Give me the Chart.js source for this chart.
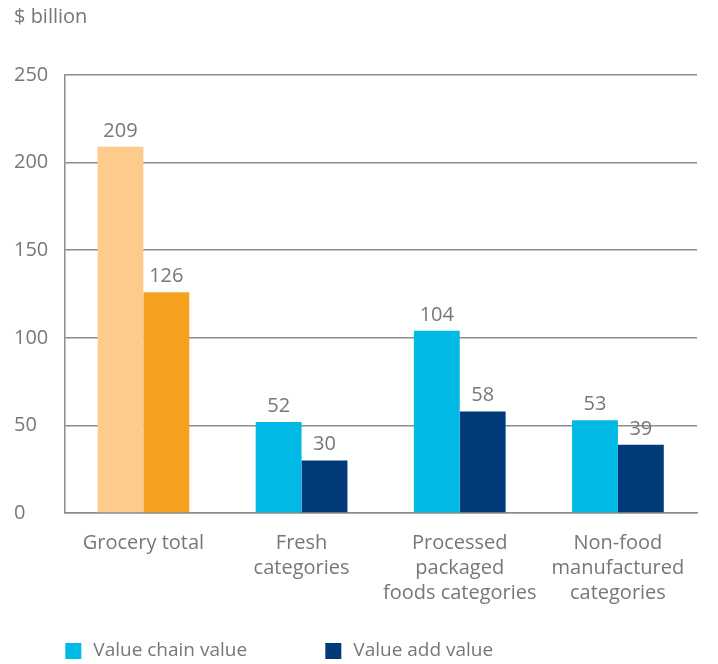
<!doctype html>
<html lang="en">
<head>
<meta charset="utf-8">
<title>Value chain vs value add</title>
<script src="https://cdn.jsdelivr.net/npm/chart.js@4/dist/chart.umd.min.js"></script>
<style>
  body { margin: 0; background: #fff; }
  #wrap { width: 718px; height: 664px; position: relative; }
</style>
</head>
<body>
<div id="wrap"><canvas id="myChart" width="718" height="664"></canvas></div>
<script>
// categories and values
var categories = [
  "Grocery total",
  ["Fresh", "categories"],
  ["Processed", "packaged", "foods categories"],
  ["Non-food", "manufactured", "categories"]
];
var chainValues = [209, 52, 104, 53];
var addValues = [126, 30, 58, 39];
var yTicks = [0, 50, 100, 150, 200, 250];
var seriesNames = ["Value chain value", "Value add value"];

var grey = "#777777";
var font = "'Open Sans', 'DejaVu Sans', sans-serif";
var cyan = "#00B9E4", navy = "#003A79";

// grocery total gets the orange pair, everything else blue
var chainColours = ["#FDCB8B", cyan, cyan, cyan];
var addColours = ["#F5A01E", navy, navy, navy];

// write the value above each bar
var valueLabels = {
  id: "valueLabels",
  afterDatasetsDraw: function(chart) {
    var ctx = chart.ctx;
    ctx.save();
    ctx.fillStyle = grey;
    ctx.font = "20px " + font;
    ctx.textAlign = "center";
    ctx.textBaseline = "alphabetic";
    chart.data.datasets.forEach(function(ds, i) {
      chart.getDatasetMeta(i).data.forEach(function(bar, j) {
        ctx.fillText(ds.data[j], bar.x, bar.y - 10);
      });
    });
    ctx.restore();
  }
};

// legend along the bottom, squares + names, left aligned with the plot
var bottomLegend = {
  id: "bottomLegend",
  afterDraw: function(chart) {
    var ctx = chart.ctx;
    var x = chart.chartArea.left + 1;
    var y = chart.height - 13;
    var colours = [cyan, navy];
    ctx.save();
    ctx.font = "19px " + font;
    ctx.textBaseline = "middle";
    seriesNames.forEach(function(name, i) {
      ctx.fillStyle = colours[i];
      ctx.fillRect(x, y - 8, 16, 16);
      ctx.fillStyle = grey;
      ctx.fillText(name, x + 28, y);
      x += 260;
    });
    ctx.restore();
  }
};

var ctx = document.getElementById("myChart");
var myChart = new Chart(ctx, {
  type: "bar",
  data: {
    labels: categories,
    datasets: [
      { label: seriesNames[0], data: chainValues, backgroundColor: chainColours },
      { label: seriesNames[1], data: addValues, backgroundColor: addColours }
    ]
  },
  options: {
    responsive: false,
    animation: false,
    layout: { padding: { left: 14, right: 21, top: 5, bottom: 48 } },
    datasets: { bar: { barPercentage: 1, categoryPercentage: 0.58 } },
    scales: {
      y: {
        min: 0, max: 250,
        afterBuildTicks: function(axis) { axis.ticks = yTicks.map(function(v) { return { value: v }; }); },
        grid: { color: "#8c8c8c", lineWidth: 1.5, drawTicks: false },
        border: { color: "#8c8c8c", width: 1.5 },
        ticks: { color: grey, font: { family: font, size: 20 }, padding: 8, crossAlign: "far" }
      },
      x: {
        grid: { display: false },
        border: { color: "#8c8c8c", width: 1.5 },
        ticks: { color: grey, font: { family: font, size: 20, lineHeight: 1.25 }, padding: 10, maxRotation: 0, autoSkip: false }
      }
    },
    plugins: {
      title: {
        display: true, text: "$ billion", align: "start", color: grey,
        font: { family: font, size: 20, weight: "normal" },
        padding: { top: 0, bottom: 46 }
      },
      legend: { display: false },
      tooltip: { enabled: false }
    }
  },
  plugins: [valueLabels, bottomLegend]
});
</script>
</body>
</html>
